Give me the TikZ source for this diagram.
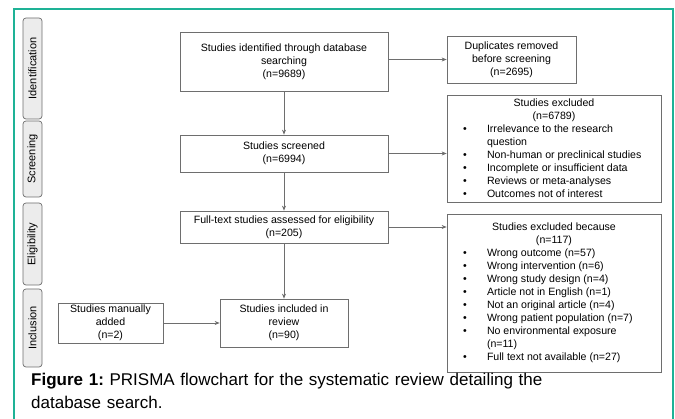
\documentclass[tikz,border=0pt]{standalone}
\usepackage{fontspec}
\setmainfont{Liberation Sans}
\usepackage{tikz}
\usetikzlibrary{positioning, arrows.meta, shapes, calc}

\definecolor{frameteal}{RGB}{30,178,150}
\definecolor{boxline}{RGB}{110,110,110}
\definecolor{phasefill}{RGB}{236,236,236}

\newcommand{\exitem}[1]{\makebox[182pt][l]{\makebox[24pt][l]{\textbullet}#1}}
\newcommand{\excont}[1]{\makebox[182pt][l]{\hspace*{24pt}#1}}

\begin{document}
\begin{tikzpicture}[x=1pt, y=-1pt, every node/.style={align=center}]
\tikzset{
  block/.style={
    rectangle, draw=boxline, line width=0.7pt, align=center, inner sep=1pt,
    font=\fontsize{10.6}{13}\selectfont
  },
  phase/.style={
    rectangle, draw=boxline, rounded corners=3pt, fill=phasefill, rotate=90,
    line width=0.7pt, minimum height=19pt, inner sep=0pt,
    font=\fontsize{11}{12}\selectfont
  },
  arrow/.style={line width=0.7pt, draw=boxline, -{Stealth[length=5pt,width=4pt]}}
}
\useasboundingbox (0,0) rectangle (675,419);
\draw[frameteal, line width=1.5pt] (14,419) -- (14,9) -- (673,9) -- (673,419);

% phases
\node (phId) [phase, minimum width=101pt] at (32.5,68.5) {Identification};
\node (phScr) [phase, minimum width=76pt] at (32.5,159) {Screening};
\node (phElig) [phase, minimum width=82pt] at (32.5,244) {Eligibility};
\node (phIncl) [phase, minimum width=78pt] at (32.5,328) {Inclusion};

% main column
\node (ident) [block, minimum width=208pt, minimum height=59pt] at (284,61.5) {Studies identified through database\\searching\\(n=9689)};
\node (screen) [block, minimum width=208pt, minimum height=37pt] at (284,153.5) {Studies screened\\(n=6994)};
\node (fulltext) [block, minimum width=208pt, minimum height=32pt] at (284,227) {Full-text studies assessed for eligibility\\(n=205)};
\node (incl) [block, minimum width=128pt, minimum height=48pt] at (284,323) {Studies included in\\review\\(n=90)};
\node (manual) [block, minimum width=105pt, minimum height=40pt] at (110.5,323) {Studies manually\\added\\(n=2)};

% side boxes
\node (dupl) [block, minimum width=129pt, minimum height=47pt] at (511.5,59.5) {Duplicates removed\\before screening\\(n=2695)};
\node (excl) [block, minimum width=214pt, minimum height=107pt] at (554,148.5) {Studies excluded\\(n=6789)\\
  \exitem{Irrelevance to the research}\\
  \excont{question}\\
  \exitem{Non-human or preclinical studies}\\
  \exitem{Incomplete or insufficient data}\\
  \exitem{Reviews or meta-analyses}\\
  \exitem{Outcomes not of interest}};
\node (exclfull) [block, minimum width=214pt, minimum height=158pt] at (554,293) {Studies excluded because\\(n=117)\\
  \exitem{Wrong outcome (n=57)}\\
  \exitem{Wrong intervention (n=6)}\\
  \exitem{Wrong study design (n=4)}\\
  \exitem{Article not in English (n=1)}\\
  \exitem{Not an original article (n=4)}\\
  \exitem{Wrong patient population (n=7)}\\
  \exitem{No environmental exposure}\\
  \excont{(n=11)}\\
  \exitem{Full text not available (n=27)}};

\draw [arrow] (ident) -- (screen);
\draw [arrow] (screen) -- (fulltext);
\draw [arrow] (fulltext) -- (incl);
\draw [arrow] (ident.east |- dupl.west) -- (dupl.west);
\draw [arrow] (screen.east) -- (screen.east -| excl.west);
\draw [arrow] (fulltext.east) -- (fulltext.east -| exclfull.west);
\draw [arrow] (manual) -- (incl);

\node (caption) [anchor=north west, align=left, inner sep=0pt, text width=640pt,
  font=\fontsize{17}{23}\selectfont] at (31,373) {\textbf{Figure 1:}\ PRISMA flowchart for the systematic review detailing the\\database search.};
\end{tikzpicture}
\end{document}
